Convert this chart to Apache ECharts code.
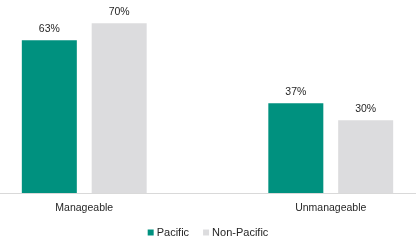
<!DOCTYPE html>
<html>
<head>
<meta charset="utf-8">
<script src="https://cdn.jsdelivr.net/npm/echarts@6/dist/echarts.min.js"></script>
<style>
html,body{margin:0;padding:0;background:#fff;}
#chart{width:416px;height:245px;}
</style>
</head>
<body>
<div id="chart"></div>
<script>
var categories = ['Manageable', 'Unmanageable'];
var pacific = [63, 37];
var nonPacific = [70, 30];
var seriesNames = ['Pacific', 'Non-Pacific'];

var font = 'Liberation Sans, Arial, sans-serif';
var chart = echarts.init(document.getElementById('chart'), null, {renderer: 'canvas'});
chart.setOption({
  animation: false,
  color: ['#00917F', '#DCDCDE'],
  legend: {
    data: seriesNames,
    top: 222,
    left: 'center',
    itemWidth: 6,
    itemHeight: 6,
    itemGap: 14,
    icon: 'rect',
    textStyle: {fontFamily: font, fontSize: 11, color: '#262626', padding: [0, 0, 0, -2]}
  },
  grid: {left: -39, right: -38, top: -1, bottom: 52, containLabel: false, outerBoundsMode: 'none'},
  xAxis: {
    type: 'category',
    data: categories,
    axisLine: {lineStyle: {color: '#D9D9D9', width: 1}},
    axisTick: {show: false},
    axisLabel: {fontFamily: font, fontSize: 10.5, color: '#262626', margin: 10}
  },
  yAxis: {
    type: 'value',
    min: 0,
    max: 80,
    show: false,
    splitLine: {show: false}
  },
  series: [
    {
      name: seriesNames[0],
      type: 'bar',
      data: pacific,
      barWidth: 55,
      barGap: '27%',
      label: {show: true, position: 'top', distance: 6, formatter: '{c}%', fontFamily: font, fontSize: 10.5, color: '#262626'}
    },
    {
      name: seriesNames[1],
      type: 'bar',
      data: nonPacific,
      barWidth: 55,
      label: {show: true, position: 'top', distance: 6, formatter: '{c}%', fontFamily: font, fontSize: 10.5, color: '#262626'}
    }
  ]
});
</script>
</body>
</html>
